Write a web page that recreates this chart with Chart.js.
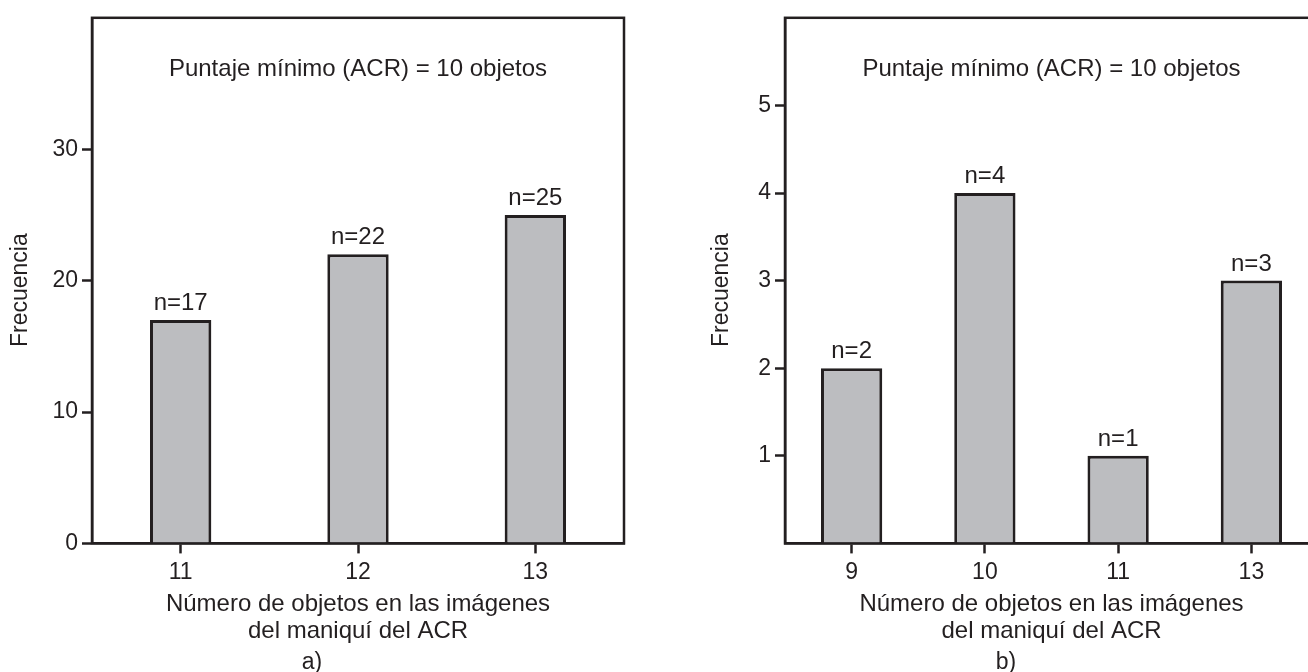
<!DOCTYPE html>
<html>
<head>
<meta charset="utf-8">
<script src="https://cdn.jsdelivr.net/npm/chart.js@4.4.1/dist/chart.umd.min.js"></script>
<style>
html, body { margin: 0; padding: 0; background: #fff; overflow: hidden; width: 1308px; height: 672px; }
.panel { position: absolute; top: 0; height: 676px; width: 640px; }
#left { left: 0; }
#right { left: 694px; }
</style>
</head>
<body>
<div class="panel" id="left"><canvas id="chartA"></canvas></div>
<div class="panel" id="right"><canvas id="chartB"></canvas></div>
<script>
// panel a)
const objectsA = ['11', '12', '13'];
const countsA = [17, 22, 25];
const ticksA = [0, 10, 20, 30];
const maxA = 40;

// panel b)
const objectsB = ['9', '10', '11', '13'];
const countsB = [2, 4, 1, 3];
const ticksB = [1, 2, 3, 4, 5];
const maxB = 6;

const note = 'Puntaje mínimo (ACR) = 10 objetos';
const xTitle = ['Número de objetos en las imágenes', 'del maniquí del ACR'];
const yTitle = 'Frecuencia';

const ink = '#231f20';
const barGrey = '#bcbdc0';
const fontFamily = "'Liberation Sans', Arial, Helvetica, sans-serif";

//Box round the plot area, drawn over the bars
const framePlugin = {
    id: 'frame',
    afterDatasetsDraw(chart) {
        const {ctx, chartArea} = chart;
        ctx.save();
        ctx.strokeStyle = ink;
        ctx.lineWidth = 2.5;
        ctx.strokeRect(chartArea.left, chartArea.top, chartArea.right - chartArea.left, chartArea.bottom - chartArea.top);
        ctx.restore();
    }
};

//n= labels over the bars and the note inside the box
const labelPlugin = {
    id: 'nLabels',
    afterDatasetsDraw(chart) {
        const {ctx, chartArea} = chart;
        const values = chart.data.datasets[0].data;
        ctx.save();
        ctx.fillStyle = ink;
        ctx.textAlign = 'center';
        ctx.textBaseline = 'alphabetic';
        ctx.font = '24px ' + fontFamily;
        chart.getDatasetMeta(0).data.forEach((bar, i) => {
            ctx.fillText('n=' + values[i], bar.x, bar.y - 10);
        });
        ctx.fillText(note, (chartArea.left + chartArea.right) / 2, chartArea.top + 58);
        ctx.restore();
    }
};

const makeChart = (id, labels, counts, tickValues, max, catPct, caption, yAxisWidth, yTitlePad) => {
    const chartElement = document.getElementById(id);
    return new Chart(chartElement, {
        type: 'bar',
        data: {
            labels: labels,
            datasets: [{
                data: counts,
                backgroundColor: barGrey,
                borderColor: ink,
                borderWidth: 3,
                borderSkipped: 'start',
                barPercentage: 1,
                categoryPercentage: catPct
            }]
        },
        options: {
            responsive: true,
            maintainAspectRatio: false,
            animation: false,
            layout: { padding: { top: 13, right: 16, bottom: 0, left: 0 } },
            plugins: {
                legend: { display: false },
                tooltip: { enabled: false },
                title: {
                    display: true,
                    position: 'bottom',
                    text: caption,
                    color: ink,
                    font: { family: fontFamily, size: 23, weight: 'normal' },
                    padding: { top: 0, bottom: 0 }
                }
            },
            scales: {
                x: {
                    type: 'category',
                    offset: true,
                    grid: { display: true, offset: false, drawOnChartArea: false, drawTicks: true, tickLength: 10, tickWidth: 2.5, tickColor: ink },
                    border: { display: true, color: ink, width: 2.5 },
                    ticks: { color: ink, padding: 5, font: { family: fontFamily, size: 23 } },
                    title: {
                        display: true,
                        text: xTitle,
                        color: ink,
                        font: { family: fontFamily, size: 24, lineHeight: 1.15 },
                        padding: { top: 0, bottom: 3 }
                    },
                    afterFit: (axis) => { axis.height = 105; }
                },
                y: {
                    min: 0,
                    max: max,
                    grid: { display: true, drawOnChartArea: false, drawTicks: true, tickLength: 10, tickWidth: 2.5, tickColor: ink },
                    border: { display: true, color: ink, width: 2.5 },
                    ticks: { color: ink, padding: 4, font: { family: fontFamily, size: 23 } },
                    afterBuildTicks: (axis) => { axis.ticks = tickValues.map(v => ({ value: v })); },
                    title: {
                        display: true,
                        // trailing spaces push the rotated word a little lower, as in the original
                        text: yTitle + '\u00a0\u00a0\u00a0',
                        color: ink,
                        font: { family: fontFamily, size: 23 },
                        padding: { top: yTitlePad, bottom: 0 }
                    },
                    afterFit: (axis) => { axis.width = yAxisWidth; }
                }
            }
        },
        plugins: [framePlugin, labelPlugin]
    });
};

makeChart('chartA', objectsA, countsA, ticksA, maxA, 0.346, 'a)', 92, 7);
makeChart('chartB', objectsB, countsB, ticksB, maxB, 0.46, 'b)', 91, 14);
</script>
</body>
</html>
